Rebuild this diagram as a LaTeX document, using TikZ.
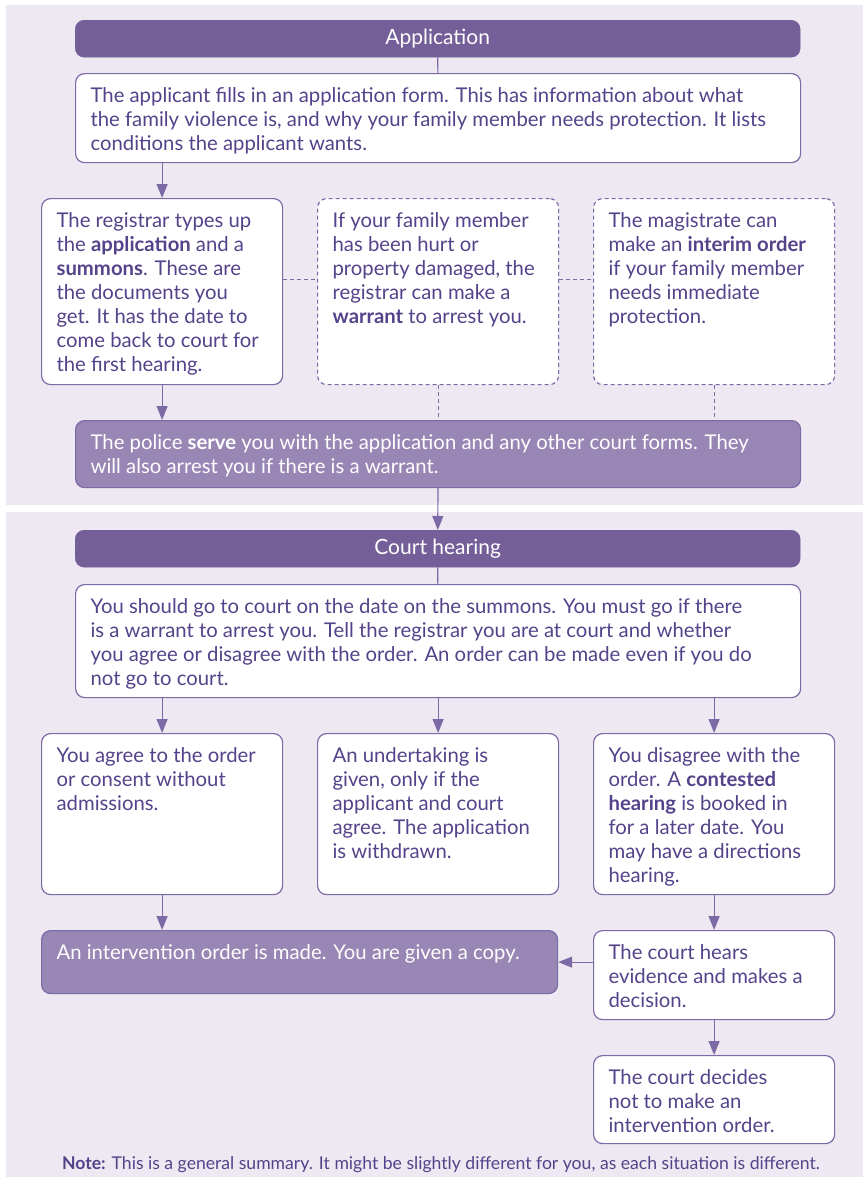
\documentclass[tikz,border=0pt]{standalone}
\usepackage{fontspec}
\setmainfont{Lato}
\usetikzlibrary{arrows.meta}
\definecolor{head}{HTML}{745F98}
\definecolor{lite}{HTML}{9886B4}
\definecolor{edge}{HTML}{7C6AA6}
\definecolor{ink}{HTML}{54438A}
\definecolor{back}{HTML}{EDE8F1}
\newcommand{\cell}[3]{\parbox[t][#2][t]{#1}{\raggedright\strut #3}}

\begin{document}
\begin{tikzpicture}[x=1pt, y=-1pt,
	hdr/.style = {fill=head, draw=head, rounded corners=9pt, anchor=north west, minimum width=725pt, minimum height=37pt, inner sep=0pt, text=white, font=\fontsize{21pt}{24pt}\selectfont},
	box/.style = {draw=edge, fill=white, line width=1.2pt, rounded corners=9pt, anchor=north west, inner xsep=15pt, inner ysep=12pt, text=ink},
	dbox/.style = {box, dash pattern=on 4pt off 3pt},
	darkbox/.style = {box, fill=lite},
	arr/.style = {draw=edge, line width=1.2pt, -{Triangle[length=14pt,width=11pt]}},
	link/.style = {draw=edge, line width=1.2pt, dash pattern=on 4pt off 3pt},
	font=\fontsize{20.3pt}{24pt}\selectfont]
	\useasboundingbox (0,0) rectangle (863,1179);
	\fill[back] (6,5) rectangle (863,505);
	\fill[back] (6,512) rectangle (863,1177);

	% application
	\node[hdr] (a) at (75,20) {Application};
	\node[box] (1) at (75,73) {\cell{695pt}{65pt}{The applicant fills in an application form. This has information about what\\ the family violence is, and why your family member needs protection. It lists\\ conditions the applicant wants.}};
	\node[box] (2) at (41,198) {\cell{211pt}{162pt}{The registrar types up\\ the \textbf{application} and a\\ \textbf{summons}. These are\\ the documents you\\ get. It has the date to\\ come back to court for\\ the first hearing.}};
	\node[dbox] (3) at (317,198) {\cell{211pt}{162pt}{If your family member\\ has been hurt or\\ property damaged, the\\ registrar can make a\\ \textbf{warrant} to arrest you.}};
	\node[dbox] (4) at (593,198) {\cell{211pt}{162pt}{The magistrate can\\ make an \textbf{interim order}\\ if your family member\\ needs immediate\\ protection.}};
	\node[darkbox, text=white] (5) at (75,420) {\cell{695pt}{43pt}{The police \textbf{serve} you with the application and any other court forms. They\\ will also arrest you if there is a warrant.}};

	% court hearing
	\node[hdr] (h) at (75,530) {Court hearing};
	\node[box] (6) at (75,584) {\cell{695pt}{89pt}{You should go to court on the date on the summons. You must go if there\\ is a warrant to arrest you. Tell the registrar you are at court and whether\\ you agree or disagree with the order. An order can be made even if you do\\ not go to court.}};
	\node[box] (7) at (41,733) {\cell{211pt}{137pt}{You agree to the order\\ or consent without\\ admissions.}};
	\node[box] (8) at (317,733) {\cell{211pt}{137pt}{An undertaking is\\ given, only if the\\ applicant and court\\ agree. The application\\ is withdrawn.}};
	\node[box] (9) at (593,733) {\cell{211pt}{137pt}{You disagree with the\\ order. A \textbf{contested}\\ \textbf{hearing} is booked in\\ for a later date. You\\ may have a directions\\ hearing.}};
	\node[darkbox, text=white] (10) at (41,930) {\cell{486pt}{39pt}{An intervention order is made. You are given a copy.}};
	\node[box] (11) at (593,930) {\cell{211pt}{65pt}{The court hears\\ evidence and makes a\\ decision.}};
	\node[box] (12) at (593,1055) {\cell{211pt}{64pt}{The court decides\\ not to make an\\ intervention order.}};
	\node[text=ink, font=\fontsize{17.6pt}{20pt}\selectfont] (note) at (441,1165) {\textbf{Note:} This is a general summary. It might be slightly different for you, as each situation is different.};

	\draw[draw=edge, line width=1.2pt] (a) -- (1);
	\draw[arr] (2.north |- 1.south) -- (2);
	\draw[link] ([yshift=12pt]2.east) -- ([yshift=12pt]3.west);
	\draw[link] ([yshift=12pt]3.east) -- ([yshift=12pt]4.west);
	\draw[arr] (2) -- (2.south |- 5.north);
	\draw[link] (3) -- (3.south |- 5.north);
	\draw[link] (4) -- (4.south |- 5.north);
	\draw[arr] (5) -- (h);
	\draw[draw=edge, line width=1.2pt] (h) -- (6);
	\draw[arr] (7.north |- 6.south) -- (7);
	\draw[arr] (8.north |- 6.south) -- (8);
	\draw[arr] (9.north |- 6.south) -- (9);
	\draw[arr] (7) -- (7.south |- 10.north);
	\draw[arr] (9) -- (11);
	\draw[arr] (11.west |- 10.east) -- (10);
	\draw[arr] (11) -- (12);
\end{tikzpicture}
\end{document}
